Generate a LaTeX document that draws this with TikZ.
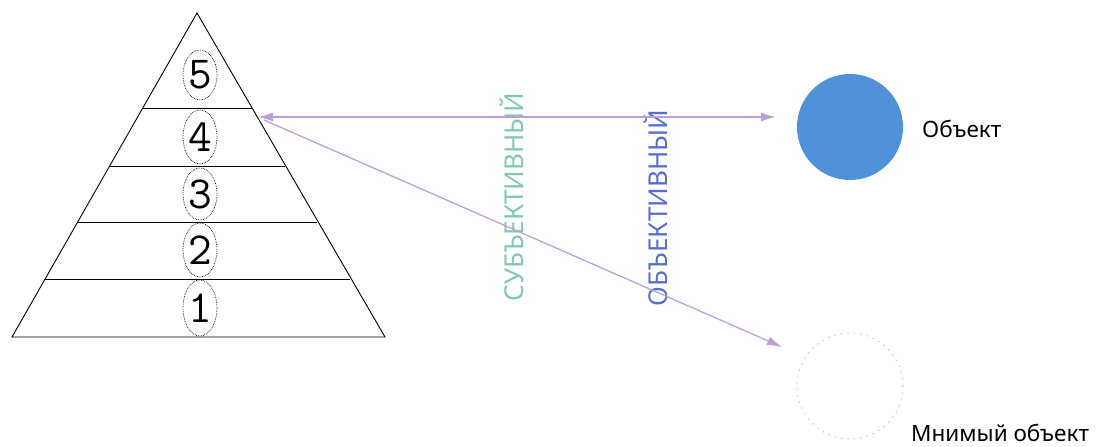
\documentclass[tikz,border=0pt]{standalone}
\usepackage{fontspec}
\setmainfont{Noto Sans}
\usetikzlibrary{shapes.geometric,arrows.meta}
\definecolor{arrowc}{RGB}{190,160,215}
\definecolor{objblue}{RGB}{80,145,218}
\definecolor{subjgreen}{RGB}{130,200,178}
\definecolor{objtxt}{RGB}{88,110,205}
\definecolor{ghost}{RGB}{200,200,200}
\tikzset{
  level/.style={draw=black, line width=0.9pt},
  numoval/.style={ellipse, draw=black, densely dotted, line width=0.7pt, minimum width=34pt, minimum height=54pt, inner sep=0pt, fill=white, font=\ttfamily\fontsize{46}{46}\selectfont},
  ray/.style={draw=arrowc, line width=1.3pt},
  tip/.style={-{Latex[length=15pt,width=9pt]}},
  lbl/.style={font=\fontsize{22.5}{22.5}\selectfont, inner sep=0pt},
  vlbl/.style={rotate=90, font=\fontsize{26}{26}\selectfont, inner sep=0pt}
}
\begin{document}
\begin{tikzpicture}[x=1pt,y=-1pt]
\useasboundingbox (0,0) rectangle (1098,447);
% pyramid
\draw[level] (197,13) -- (12,337) -- (385,337) -- cycle;
\draw[level] (143,108) -- (252,108);
\draw[level] (110,166) -- (285,166);
\draw[level] (78,222) -- (317,222);
\draw[level] (45,279) -- (350,279);
% numbered ovals
\node[numoval, minimum height=50pt] (n5) at (200,75) {5};
\node[numoval] (n4) at (200,137) {4};
\node[numoval, minimum height=52pt] (n3) at (200,194) {3};
\node[numoval] (n2) at (200,250) {2};
\node[numoval, minimum height=56pt] (n1) at (200,308) {1};
% objects
\node[circle, fill=objblue, minimum size=106pt, inner sep=0pt] (obj) at (850,127) {};
\node[circle, draw=ghost, line width=1pt, dash pattern=on 1.5pt off 5pt, minimum size=106pt, inner sep=0pt] (ghostobj) at (850,386) {};
\node[lbl, anchor=west] (objl) at (922,129) {Объект};
\node[lbl, anchor=base west] (ghostl) at (911,441) {Мнимый объект};
% vertical labels
\node[vlbl, text=subjgreen] (subj) at (512,197) {СУБЪЕКТИВНЫЙ};
\node[vlbl, text=objtxt] (objv) at (656,208) {ОБЪЕКТИВНЫЙ};
% rays
\coordinate (src) at (258,117);
\coordinate (srcb) at (264,120);
\coordinate (endA) at (776,117);
\coordinate (endB) at (782,347);
\draw[ray, {Latex[length=15pt,width=9pt]}-{Latex[length=15pt,width=9pt]}] (src) -- (endA);
\draw[ray, tip] (srcb) -- (endB);
\end{tikzpicture}
\end{document}
